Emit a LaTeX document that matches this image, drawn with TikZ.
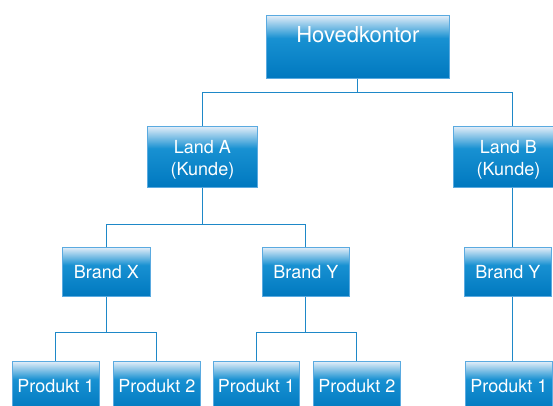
\documentclass[tikz,border=0pt]{standalone}
\usepackage{fontspec}
\setmainfont{TeX Gyre Heros}
\usetikzlibrary{calc}
\definecolor{lightb}{HTML}{E2EDF8}
\definecolor{midb}{HTML}{1891D2}
\definecolor{darkb}{HTML}{0078BF}
\definecolor{edgeb}{HTML}{5AAAE0}
\definecolor{lineb}{HTML}{1E88C8}
\pgfdeclareverticalshading{orgshade}{100bp}{color(0bp)=(darkb); color(25bp)=(darkb); color(57bp)=(midb); color(75bp)=(lightb); color(100bp)=(lightb)}
\begin{document}
\begin{tikzpicture}[x=1pt,y=-1pt,
  orgbox/.style={draw=edgeb, line width=0.8pt, shading=orgshade, rectangle,
    inner sep=0pt, anchor=north west, text=white,
    font=\fontsize{18}{22}\selectfont},
  landbox/.style={orgbox, minimum width=110pt, minimum height=61pt,
    text height=27.5pt, text depth=33.5pt},
  link/.style={draw=lineb, line width=1pt}]
\useasboundingbox (0,0) rectangle (553,405);
\clip (0,0) rectangle (553,405);
% nodes
\node[orgbox, minimum width=183pt, minimum height=63pt,
  font=\fontsize{22}{26}\selectfont, text height=27.4pt, text depth=35.6pt] (hq) at (266,15) {Hovedkontor};
\node[landbox] (landA) at (147,126) {\begin{tabular}[t]{@{}c@{}}Land A\\(Kunde)\end{tabular}};
\node[landbox] (landB) at (453,126) {\begin{tabular}[t]{@{}c@{}}Land B\\(Kunde)\end{tabular}};
\node[orgbox, minimum width=88pt, minimum height=49pt] (brandX) at (62,247) {Brand X};
\node[orgbox, minimum width=87pt, minimum height=49pt] (brandYA) at (262,247) {Brand Y};
\node[orgbox, minimum width=87pt, minimum height=49pt] (brandYB) at (464,247) {Brand Y};
\node[orgbox, minimum width=87pt, minimum height=50pt] (p1a) at (12,361) {Produkt 1};
\node[orgbox, minimum width=87pt, minimum height=50pt] (p2a) at (113,361) {Produkt 2};
\node[orgbox, minimum width=86pt, minimum height=50pt] (p1b) at (213,361) {Produkt 1};
\node[orgbox, minimum width=87pt, minimum height=50pt] (p2b) at (313,361) {Produkt 2};
\node[orgbox, minimum width=87pt, minimum height=50pt] (p1c) at (465,361) {Produkt 1};
% bus levels
\coordinate (busA) at (0,92);
\coordinate (busB) at (0,224.3);
\coordinate (busC) at (0,332);
\coordinate (bx) at (512.7,0);
% connectors
\draw[link] (hq.south) -- (hq.south |- busA);
\draw[link] (landA.north) |- (bx |- busA) -- (bx |- landB.north);
\draw[link] (landA.south) -- (landA.south |- busB);
\draw[link] (brandX.north) |- (brandYA.north |- busB) -- (brandYA.north);
\draw[link] (bx |- landB.south) -- (bx |- brandYB.north);
\draw[link] (brandX.south) -- (brandX.south |- busC);
\draw[link] (p1a.north) |- (p2a.north |- busC) -- (p2a.north);
\draw[link] (brandYA.south) -- (brandYA.south |- busC);
\draw[link] (p1b.north) |- (p2b.north |- busC) -- (p2b.north);
\draw[link] (bx |- brandYB.south) -- (bx |- p1c.north);
\end{tikzpicture}
\end{document}
